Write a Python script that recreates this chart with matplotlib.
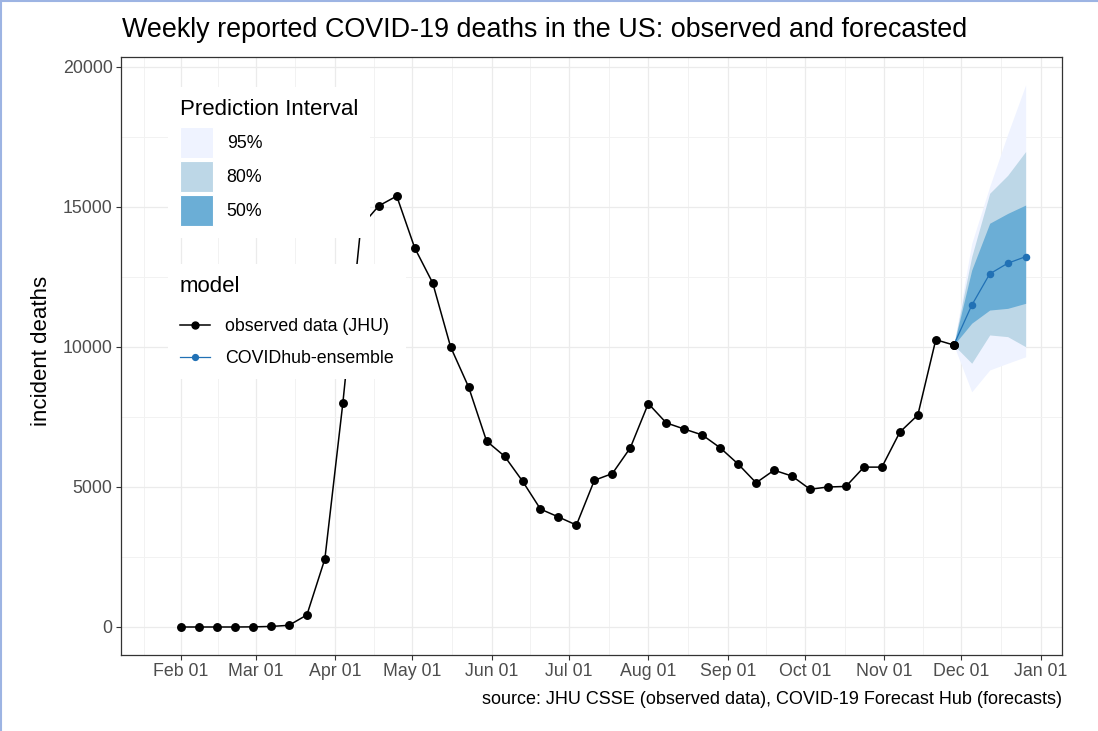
import matplotlib
matplotlib.use('Agg')
import matplotlib.pyplot as plt
import matplotlib.dates as mdates
from matplotlib.patches import Patch
from matplotlib.lines import Line2D
import numpy as np
import pandas as pd

plt.rcParams['font.family'] = ['Liberation Sans', 'DejaVu Sans']

# ---------------- data ----------------
obs_dates = ['2020-02-01', '2020-02-08', '2020-02-15', '2020-02-22', '2020-02-29',
             '2020-03-07', '2020-03-14', '2020-03-21', '2020-03-28',
             '2020-04-04', '2020-04-11', '2020-04-18', '2020-04-25',
             '2020-05-02', '2020-05-09', '2020-05-16', '2020-05-23', '2020-05-30',
             '2020-06-06', '2020-06-13', '2020-06-20', '2020-06-27',
             '2020-07-04', '2020-07-11', '2020-07-18', '2020-07-25',
             '2020-08-01', '2020-08-08', '2020-08-15', '2020-08-22', '2020-08-29',
             '2020-09-05', '2020-09-12', '2020-09-19', '2020-09-26',
             '2020-10-03', '2020-10-10', '2020-10-17', '2020-10-24', '2020-10-31',
             '2020-11-07', '2020-11-14', '2020-11-21', '2020-11-28']
obs_deaths = [0, 0, 0, 0, 5,
              20, 60, 430, 2430,
              7990, 14300, 15040, 15390,
              13540, 12290, 10000, 8570, 6640,
              6100, 5210, 4210, 3930,
              3640, 5240, 5480, 6400,
              7980, 7290, 7070, 6860, 6400,
              5820, 5150, 5600, 5390,
              4920, 5000, 5020, 5710, 5710,
              6960, 7570, 10260, 10070]

fc_dates = ['2020-11-28', '2020-12-05', '2020-12-12', '2020-12-19', '2020-12-26']
fc_median = [10070, 11490, 12610, 12990, 13226]
fc_q025 = [10070, 8400, 9180, 9420, 9650]
fc_q975 = [10070, 13700, 15730, 17600, 19360]
fc_q10 = [10070, 9420, 10430, 10370, 10010]
fc_q90 = [10070, 13230, 15490, 16130, 16980]
fc_q25 = [10070, 10850, 11320, 11380, 11560]
fc_q75 = [10070, 12750, 14420, 14770, 15070]

month_ticks = ['2020-02-01', '2020-03-01', '2020-04-01', '2020-05-01', '2020-06-01',
               '2020-07-01', '2020-08-01', '2020-09-01', '2020-10-01', '2020-11-01',
               '2020-12-01', '2021-01-01']
month_labels = ['Feb 01', 'Mar 01', 'Apr 01', 'May 01', 'Jun 01', 'Jul 01',
                'Aug 01', 'Sep 01', 'Oct 01', 'Nov 01', 'Dec 01', 'Jan 01']
y_ticks = [0, 5000, 10000, 15000, 20000]
y_labels = ['0', '5000', '10000', '15000', '20000']

pi_labels = ['95%', '80%', '50%']
pi_colors = ['#eff3ff', '#bdd7e7', '#6baed6']
model_labels = ['observed data (JHU)', 'COVIDhub-ensemble']
model_colors = ['black', '#2171b5']

title = 'Weekly reported COVID-19 deaths in the US: observed and forecasted'
caption = 'source: JHU CSSE (observed data), COVID-19 Forecast Hub (forecasts)'

# ---------------- figure ----------------
W, H = 1098, 731
fig = plt.figure(figsize=(W / 100, H / 100), dpi=100)
fig.patch.set_facecolor('white')

ax = fig.add_axes([121 / W, 1 - 655 / H, (1062 - 121) / W, (655 - 57) / H])

od = pd.to_datetime(obs_dates)
fd = pd.to_datetime(fc_dates)
mt = pd.to_datetime(month_ticks)

ax.fill_between(fd, fc_q025, fc_q975, color=pi_colors[0], lw=0, zorder=2)
ax.fill_between(fd, fc_q10, fc_q90, color=pi_colors[1], lw=0, zorder=2.1)
ax.fill_between(fd, fc_q25, fc_q75, color=pi_colors[2], lw=0, zorder=2.2)

ax.plot(od, obs_deaths, color='black', lw=1.1, marker='o', ms=5.4, zorder=3)
ax.plot(fd, fc_median, color=model_colors[1], lw=0.9, marker='o', ms=4.4, zorder=3.5)
ax.plot(fd[:1], fc_median[:1], color='black', marker='o', ms=5.4, lw=0, zorder=3.6)

# axis limits
ax.set_xlim(pd.Timestamp('2020-01-08 14:00'), pd.Timestamp('2021-01-09 04:00'))
ax.set_ylim(-1000, 20357)

# ticks
mnum = mdates.date2num(mt)
ax.set_xticks(mnum)
ax.set_xticklabels(month_labels)
minor_x = list((mnum[:-1] + mnum[1:]) / 2) + [mnum[0] - (mnum[1] - mnum[0]) / 2]
ax.set_xticks(minor_x, minor=True)
ax.set_yticks(y_ticks)
ax.set_yticklabels(y_labels)
ax.set_yticks([2500, 7500, 12500, 17500], minor=True)

ax.tick_params(axis='both', which='major', length=3.5, width=0.8, color='#333333',
               labelcolor='#4D4D4D', labelsize=12.8, pad=2.5)
ax.tick_params(axis='both', which='minor', length=0)

ax.grid(which='major', color='#EBEBEB', lw=0.9, zorder=0)
ax.grid(which='minor', color='#F2F2F2', lw=0.7, zorder=0)
ax.set_axisbelow(True)

for s in ax.spines.values():
    s.set_color('#333333')
    s.set_linewidth(0.9)
    s.set_zorder(5)

# title / labels
fig.text(122 / W, 1 - 30 / H, title, ha='left', va='center', fontsize=19.4, color='black')
fig.text(1062 / W, 1 - 700 / H, caption, ha='right', va='center', fontsize=13, color='black')
fig.text(42 / W, 1 - 351 / H, 'incident deaths', ha='center', va='center', rotation=90,
         fontsize=16, color='black')

# legends
pi_handles = [Patch(facecolor=c, edgecolor='white', lw=0.8) for c in pi_colors]
leg1 = ax.legend(pi_handles, pi_labels, title='Prediction Interval', loc='upper left',
                 bbox_to_anchor=(159 / W, 1 - 78 / H), bbox_transform=fig.transFigure,
                 fontsize=12.8, title_fontsize=16, handlelength=1.88, handleheight=2.34,
                 labelspacing=0.14, handletextpad=0.75, borderpad=0.68,
                 frameon=True, fancybox=False, framealpha=1, alignment='left')
leg1.get_frame().set_facecolor('white')
leg1.get_frame().set_linewidth(0)
leg1._legend_box.sep = 5
leg1.set_zorder(10)
ax.add_artist(leg1)

model_handles = [Line2D([], [], color=model_colors[0], lw=1.1, marker='o', ms=5.0),
                 Line2D([], [], color=model_colors[1], lw=0.9, marker='o', ms=4.2)]
leg2 = ax.legend(model_handles, model_labels, title='model', loc='upper left',
                 bbox_to_anchor=(159 / W, 1 - 255 / H), bbox_transform=fig.transFigure,
                 fontsize=12.8, title_fontsize=16, handlelength=1.69,
                 labelspacing=0.87, handletextpad=0.84, borderpad=0.68,
                 frameon=True, fancybox=False, framealpha=1, alignment='left')
leg2.get_frame().set_facecolor('white')
leg2.get_frame().set_linewidth(0)
leg2._legend_box.sep = 15
leg2.set_zorder(10)

# screenshot frame lines
fig.add_artist(Line2D([0.5 / W, 0.5 / W], [0, 1], transform=fig.transFigure,
                      color='#9DB4E3', lw=1.5))
fig.add_artist(Line2D([0, 1], [1 - 0.5 / H, 1 - 0.5 / H], transform=fig.transFigure,
                      color='#9DB4E3', lw=1.5))

fig.savefig('out.png', dpi=100)
